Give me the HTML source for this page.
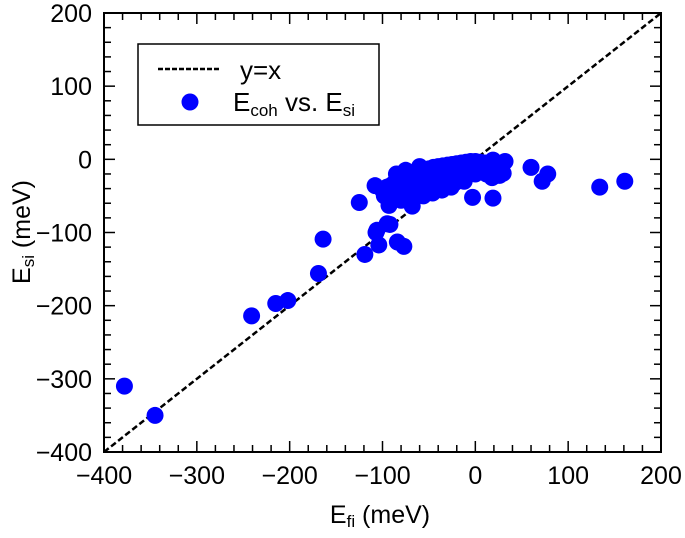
<!DOCTYPE html>
<html><head><meta charset="utf-8"><style>
body{margin:0;background:#fff;}
svg text{font-family:"Liberation Sans",sans-serif;fill:#000;}
</style></head><body>
<svg id="chart" width="685" height="533">
<g id="points"></g>
<g id="axes"></g>
</svg>
<script>
const xVals=[-378,-345,-241,-215,-202,-169,-164,-119,-125,-107,-104,-92,-84,-77,-108,-93,-68,-3,19,60,78,72,134,161,32,19,30,-106,-95,
-100,-95,-90,-85,-80,-75,-70,-65,-60,-55,-50,-45,-40,-35,-30,-25,-20,-15,-10,-5,0,5,10,15,20,25,
-98,-88,-82,-76,-70,-62,-56,-50,-44,-38,-30,-22,-14,-6,2,8,14,
-92,-84,-78,-72,-66,-58,-52,-46,-40,-34,-26,-18,-10,-2,6,12,18,
-86,-74,-64,-54,-44,-34,-24,-14,-4,4,-80,-60,-40,-20,0,-12,26,
-62,-52,-42,-32,-22,-12,-56,-46,-36,-26,-70,-48,-30,-8,-85,-75,-60];
const yVals=[-310,-350,-214,-197,-193,-156,-109,-130,-59,-100,-117,-89,-113,-119,-36,-63,-64,-52,-53,-11,-20,-30,-38,-30,-3,-1,-19,-97,-88,
-42,-38,-35,-32,-28,-25,-22,-20,-18,-15,-13,-11,-10,-9,-8,-7,-6,-5,-4,-3,-3,-4,-5,-6,-7,-8,
-50,-46,-44,-40,-37,-33,-30,-28,-25,-22,-20,-17,-14,-12,-10,-12,-14,
-55,-50,-48,-45,-43,-40,-38,-35,-32,-30,-27,-24,-22,-19,-16,-20,-25,
-30,-30,-26,-22,-18,-15,-12,-10,-8,-8,-56,-44,-35,-28,-20,-30,-22,
-45,-42,-40,-36,-32,-26,-50,-46,-42,-38,-52,-20,-15,-20,-20,-15,-10];
const xTicks=[-400,-300,-200,-100,0,100,200];
const yTicks=[-400,-300,-200,-100,0,100,200];
const X0=104,X1=661,Y0=452,Y1=13;
const sx=v=>X0+(v+400)/600*(X1-X0);
const sy=v=>Y0-(v+400)/600*(Y0-Y1);
const NS='http://www.w3.org/2000/svg';
const ax=document.getElementById('axes'),pg=document.getElementById('points');
function mk(t,a,p){const e=document.createElementNS(NS,t);for(const k in a)e.setAttribute(k,a[k]);p.appendChild(e);return e;}
const d=mk('line',{x1:sx(-400),y1:sy(-400),x2:sx(200),y2:sy(200),stroke:'#000','stroke-width':2.5,'stroke-dasharray':'6,3'},pg);


for(let i=0;i<xVals.length;i++){
 const c=mk('circle',{cx:sx(xVals[i]),cy:sy(yVals[i]),r:8.5,fill:'#0000ff'},pg);
 
 
}
const fr=mk('rect',{x:X0,y:Y1,width:X1-X0,height:Y0-Y1,fill:'none',stroke:'#000','stroke-width':2},ax);


for(let v=-400;v<=200;v+=20){
 const big=v%100===0,L=big?11:7;
 mk('line',{x1:sx(v),y1:Y0,x2:sx(v),y2:Y0-L,stroke:'#000','stroke-width':1.5},ax);
 mk('line',{x1:sx(v),y1:Y1,x2:sx(v),y2:Y1+L,stroke:'#000','stroke-width':1.5},ax);
 mk('line',{x1:X0,y1:sy(v),x2:X0+L,y2:sy(v),stroke:'#000','stroke-width':1.5},ax);
 mk('line',{x1:X1,y1:sy(v),x2:X1-L,y2:sy(v),stroke:'#000','stroke-width':1.5},ax);
}
xTicks.forEach(v=>{const t=mk('text',{x:sx(v),y:484,'text-anchor':'middle','font-size':25},ax);t.textContent=String(v).replace('-','\u2212');
 
 });
yTicks.forEach(v=>{const t=mk('text',{x:92,y:sy(v)+9,'text-anchor':'end','font-size':25},ax);t.textContent=String(v).replace('-','\u2212');
 
 });
</script>
<svg style="position:absolute;left:0;top:0" width="685" height="533">
<text x="380" y="523" text-anchor="middle" font-size="25">E<tspan font-size="17" dy="4">fi</tspan><tspan dy="-4"> (meV)</tspan></text>
<text transform="translate(30,232) rotate(-90)" text-anchor="middle" font-size="25">E<tspan font-size="17" dy="4">si</tspan><tspan dy="-4"> (meV)</tspan></text>
<g>
<rect x="138" y="44" width="241" height="81" fill="#fff" stroke="#000" stroke-width="1.5"/>
<line x1="158" y1="69" x2="220" y2="69" stroke="#000" stroke-width="2.5" stroke-dasharray="5,2"/>
<text x="240" y="79" font-size="26">y=x</text>
<circle cx="190" cy="102" r="8.5" fill="#0000ff"/>
<text x="233" y="111" font-size="26">E<tspan font-size="17" dy="5">coh</tspan><tspan dy="-5"> vs. E</tspan><tspan font-size="17" dy="5">si</tspan></text>
</g>
</svg>
</body></html>
